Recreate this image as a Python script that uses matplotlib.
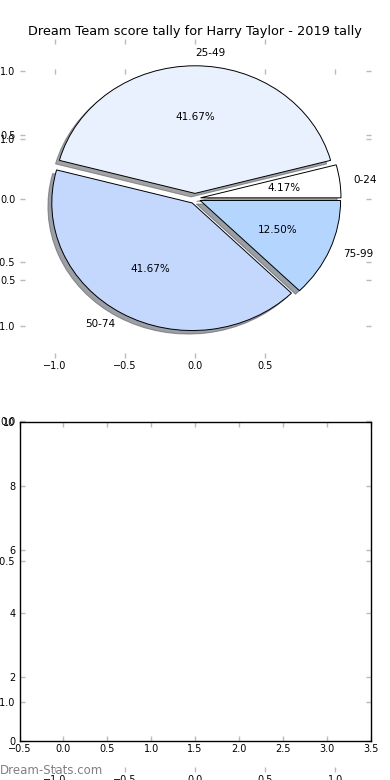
import numpy as np
import matplotlib
matplotlib.use("Agg")
import matplotlib.pyplot as plt

# score bands and how many games fell in each
labels = ["0-24", "25-49", "50-74", "75-99"]
counts = [1, 10, 10, 3]
colors = ["#ffffff", "#eaf1fe", "#c4d8fe", "#b3d5fe"]
explode = [0.04, 0.04, 0.04, 0.04]

# second panel is empty (no bars drawn)
bar_values = [0, 0, 0, 0]

title = "Dream Team score tally for Harry Taylor - 2019 tally"
pie_ticks = [-1.0, -0.5, 0.0, 0.5, 1.0]
tick_gray = "#bbbbbb"

fig = plt.figure(figsize=(3.9, 7.8), dpi=100)


def style_ticks(ax, xpad=2, ypad=3):
    ax.tick_params(direction="in", length=3.5, width=1, color=tick_gray,
                   labelsize=7, top=True, right=True, labelcolor="black")
    ax.tick_params(axis="x", pad=xpad)
    ax.tick_params(axis="y", pad=ypad)


# big leftover pie axes behind everything
ax_bg = fig.add_axes([0.05, 0.0097, 0.9, 0.9017])
ax_bg.set_frame_on(False)
ax_bg.set_xlim(-1.25, 1.25)
ax_bg.set_ylim(-1.25, 1.25)
ax_bg.set_xticks(pie_ticks)
ax_bg.set_yticks(pie_ticks)
style_ticks(ax_bg)

# ---- pie ----
ax_pie = fig.add_axes([0.05, 0.541, 0.9, 0.409])
ax_pie.pie(counts, labels=labels, colors=colors, explode=explode,
           shadow=True, autopct="%1.2f%%", startangle=0,
           wedgeprops={"edgecolor": "black", "linewidth": 0.7},
           textprops={"fontsize": 7.5})
ax_pie.set_aspect("auto")
ax_pie.set_frame_on(False)
ax_pie.set_xlim(-1.25, 1.25)
ax_pie.set_ylim(-1.25, 1.25)
ax_pie.set_xticks([-1.0, -0.5, 0.0, 0.5])
ax_pie.set_yticks(pie_ticks)
style_ticks(ax_pie)
ax_pie.set_title(title, fontsize=9.3, pad=3)

# ---- empty bar panel ----
ax_bar = fig.add_axes([0.05, 0.05, 0.9, 0.409])
ax_bar.bar(range(len(bar_values)), bar_values, linewidth=0)
ax_bar.set_xlim(-0.5, 3.5)
ax_bar.set_ylim(0, 10)
ax_bar.set_xticks(np.arange(-0.5, 3.51, 0.5))
ax_bar.set_yticks(range(0, 11, 2))
ax_bar.patch.set_alpha(0)
for s in ax_bar.spines.values():
    s.set_linewidth(1)
    s.set_color("black")
style_ticks(ax_bar)

fig.text(0.0, 0.0128, "Dream-Stats.com", color="#808080", fontsize=8.5,
         va="center", ha="left")

fig.savefig("out.png", dpi=100)
